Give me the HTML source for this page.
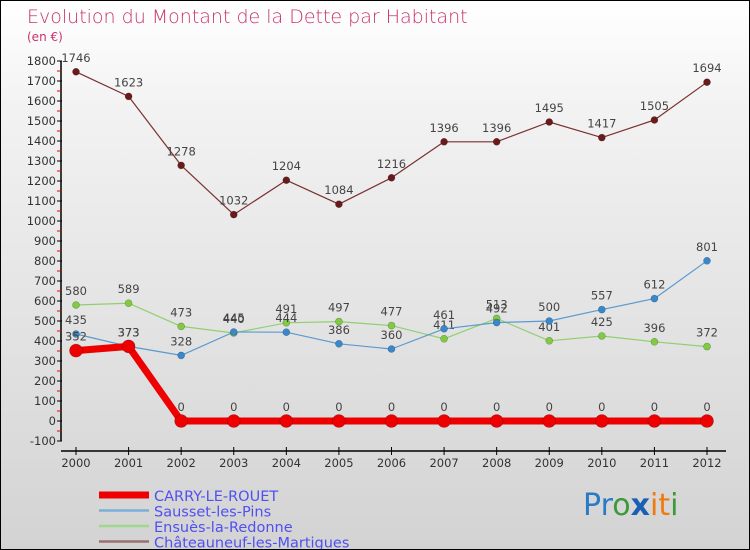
<!DOCTYPE html>
<html><head><meta charset="utf-8"><style>
body{margin:0}
#wrap{position:relative;width:748px;height:548px;border:1px solid #000;background:linear-gradient(#fff,#f2f2f2 20%,#d3d3d3);font-family:"DejaVu Sans","Liberation Sans",sans-serif;overflow:hidden}
svg text{font-family:"DejaVu Sans","Liberation Sans",sans-serif}
</style></head><body>
<div id="wrap">
<svg id="c" width="748" height="548">
<text x="26" y="22" font-size="19" fill="#c8326e" style="font-weight:200">Evolution du Montant de la Dette par Habitant</text>
<text x="26" y="40" font-size="12" fill="#c8326e">(en €)</text>
<g id="axes"></g><g id="series"></g><g id="legend"></g>
<text x="582" y="514" font-size="30" font-family="Liberation Sans"><tspan fill="#2a7ac8">Pr</tspan><tspan fill="#3a9a3a">o</tspan><tspan fill="#1a5fb4" font-weight="bold">x</tspan><tspan fill="#f07a10">i</tspan><tspan fill="#f07a10">t</tspan><tspan fill="#3a9a3a">i</tspan></text>
</svg></div>
<script>
const years=[2000,2001,2002,2003,2004,2005,2006,2007,2008,2009,2010,2011,2012];
const yTicks=[-100,0,100,200,300,400,500,600,700,800,900,1000,1100,1200,1300,1400,1500,1600,1700,1800];
const carry=[352,373,0,0,0,0,0,0,0,0,0,0,0];
const sausset=[435,373,328,445,444,386,360,461,492,500,557,612,801];
const ensues=[580,589,473,440,491,497,477,411,513,401,425,396,372];
const chato=[1746,1623,1278,1032,1204,1084,1216,1396,1396,1495,1417,1505,1694];
const names=["CARRY-LE-ROUET","Sausset-les-Pins","Ensuès-la-Redonne","Châteauneuf-les-Martigues"];
const NS="http://www.w3.org/2000/svg";
const X=i=>75+i*(706-75)/12;
const Y=v=>420-v*0.2;
function mk(p,t,a){const e=document.createElementNS(NS,t);for(const k in a)e.setAttribute(k,a[k]);p.appendChild(e);return e;}
const ax=document.getElementById('axes');
const yl=mk(ax,'line',{x1:60,x2:60,y1:Y(1800),y2:Y(-100),stroke:'#000','stroke-width':1.5});


const xl=mk(ax,'line',{x1:60,x2:725,y1:450,y2:450,stroke:'#000','stroke-width':1.5});


yTicks.forEach(v=>{
 mk(ax,'line',{x1:56,x2:61,y1:Y(v),y2:Y(v),stroke:'#000'});
 if(v<1800)mk(ax,'line',{x1:56,x2:60,y1:Y(v+50),y2:Y(v+50),stroke:'#e00'});
 const t=mk(ax,'text',{x:55,y:Y(v)+4,'font-size':11.5,fill:'#333','text-anchor':'end'});t.textContent=v;
 
 
});
years.forEach((y,i)=>{
 mk(ax,'line',{x1:X(i),x2:X(i),y1:446,y2:454,stroke:'#000'});
 const t=mk(ax,'text',{x:X(i),y:466,'font-size':11.5,fill:'#333','text-anchor':'middle'});t.textContent=y;
 
 
});
const sg=document.getElementById('series');
function series(data,col,dot,w,r,name){
 const g=mk(sg,'g',{});
 
 
 mk(g,'polyline',{points:data.map((v,i)=>X(i)+','+Y(v)).join(' '),fill:'none',stroke:col,'stroke-width':w,'stroke-linejoin':'round'});
 data.forEach((v,i)=>{
  const c=mk(g,'circle',{cx:X(i),cy:Y(v),r:r,fill:dot,stroke:'rgba(0,0,0,0.3)','stroke-width':0.6});
  
  
  const t=mk(g,'text',{x:X(i),y:Y(v)-10,'font-size':11.5,fill:'#444','text-anchor':'middle'});t.textContent=v;
  
  
 });
}
series(chato,'#7a3030','#6a1a1a',1.2,3.5,'series-chateauneuf');
series(ensues,'#90d070','#80cc40',1.2,3.5,'series-ensues');
series(sausset,'#5a9ad0','#3a88cc',1.2,3.5,'series-sausset');
series(carry,'#ee0000','#ee0000',7,6.5,'series-carry');
const lg=document.getElementById('legend');
const lc=[['#ee0000',7],['#7ab0d8',2.5],['#a0d890',2.5],['#9a7070',2.5]];
names.forEach((n,i)=>{
 const yy=494+i*15.5;
 const l=mk(lg,'line',{x1:98,x2:148,y1:yy,y2:yy,stroke:lc[i][0],'stroke-width':lc[i][1]});
 
 
 const t=mk(lg,'text',{x:153,y:yy+6,'font-size':14.5,fill:'#5050f0'});t.textContent=n;
 
 
});
</script></body></html>
